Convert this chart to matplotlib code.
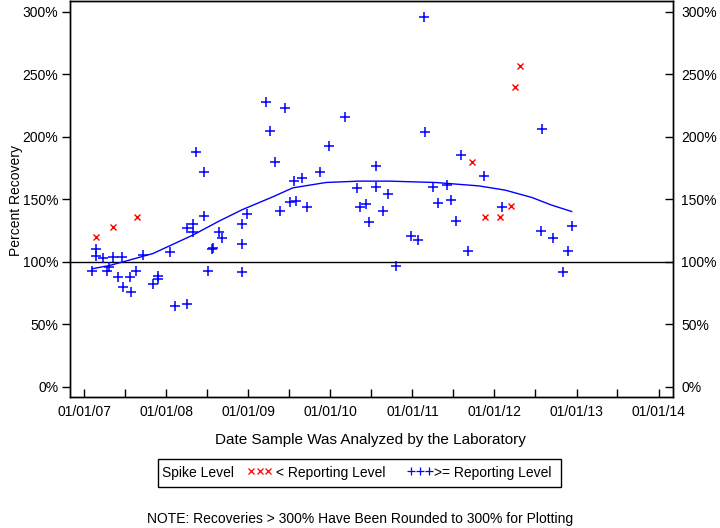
import matplotlib
matplotlib.use("Agg")
import matplotlib.pyplot as plt
import matplotlib.dates as mdates
import numpy as np
import pandas as pd
from matplotlib.lines import Line2D
from matplotlib.patches import Rectangle

plt.rcParams['font.family'] = ['Liberation Sans', 'DejaVu Sans']

# --- data: >= reporting level (blue +) ---
ge_dates = ['2007-02-05', '2007-02-21', '2007-02-21', '2007-03-26', '2007-04-10', '2007-04-22',
            '2007-05-09', '2007-05-31', '2007-06-16', '2007-06-23', '2007-07-23', '2007-07-27',
            '2007-08-21', '2007-09-20', '2007-11-05', '2007-11-27', '2007-11-27', '2008-01-17',
            '2008-02-09', '2008-04-01', '2008-04-01', '2008-04-27', '2008-04-27', '2008-05-12',
            '2008-06-15', '2008-06-15', '2008-07-06', '2008-07-24', '2008-07-26', '2008-08-22',
            '2008-09-06', '2008-12-04', '2008-12-04', '2008-12-04', '2008-12-27', '2009-03-21',
            '2009-04-06', '2009-05-01', '2009-05-22', '2009-06-11', '2009-07-05', '2009-07-21',
            '2009-08-02', '2009-08-28', '2009-09-19', '2009-11-15', '2009-12-24', '2010-03-09',
            '2010-04-27', '2010-05-11', '2010-06-09', '2010-06-23', '2010-07-21', '2010-07-21',
            '2010-08-23', '2010-09-13', '2010-10-21', '2010-12-25', '2011-01-27', '2011-02-20',
            '2011-02-27', '2011-04-03', '2011-04-27', '2011-06-02', '2011-06-21', '2011-07-12',
            '2011-08-04', '2011-09-07', '2011-11-17', '2012-02-03', '2012-07-28', '2012-07-30',
            '2012-09-19', '2012-11-03', '2012-11-24', '2012-12-13']
ge_values = [93, 110, 105, 103, 93, 96,
             104, 87.5, 103.5, 79.5, 87.5, 76,
             93, 105.5, 82, 89, 86.5, 107.5,
             65, 66.5, 127, 130, 124, 187.5,
             171.5, 136.5, 93, 110, 111, 124,
             119, 130.5, 114.5, 91.5, 138.5, 228,
             204.5, 179.5, 141, 223, 148, 165,
             148.5, 167, 143.5, 171.5, 193, 216,
             159, 144, 146, 132, 177, 160,
             140.5, 154, 97, 121, 117.5, 296,
             204, 160, 147, 161.5, 149.5, 133,
             185.5, 109, 169, 144, 125, 206.5,
             119, 92, 109, 129]

# --- data: < reporting level (red x) ---
lt_dates = ['2007-02-21', '2007-05-09', '2007-08-24', '2011-09-25', '2011-11-19',
            '2012-01-25', '2012-03-17', '2012-04-01', '2012-04-23']
lt_values = [119.5, 128, 136, 180, 135.5, 136, 144.5, 240, 257]

# --- smoothed trend line ---
trend_dates = ['2007-02-05', '2007-04-23', '2007-07-08', '2007-11-03', '2008-04-28', '2008-08-25',
               '2008-12-06', '2009-04-19', '2009-07-17', '2009-12-12', '2010-05-09', '2010-09-19',
               '2011-04-14', '2011-10-23', '2012-02-18', '2012-06-16', '2012-09-12', '2012-12-10']
trend_values = [94.4, 97, 100.7, 106.6, 121.3, 132.7,
                141.8, 151.9, 159.1, 163.4, 164.5, 164.5,
                163.4, 160.7, 157.3, 151.4, 145.3, 140.2]

y_ticks = [0, 50, 100, 150, 200, 250, 300]
x_tick_years = [2007, 2008, 2009, 2010, 2011, 2012, 2013, 2014]
reference_level = 100

fig = plt.figure(figsize=(7.2, 5.28), dpi=100)
ax = fig.add_axes([69.5 / 720, 1 - 397 / 528, (672.7 - 69.5) / 720, 396.5 / 528])

ax.plot(pd.to_datetime(trend_dates), trend_values, color='#0000ff', lw=1.0, zorder=2)
ax.axhline(reference_level, color='black', lw=1.0, zorder=1)
ax.plot(pd.to_datetime(ge_dates), ge_values, linestyle='none', marker='+', ms=7,
        mew=1.1, color='#0000ff', zorder=3)
ax.plot(pd.to_datetime(lt_dates), lt_values, linestyle='none', marker='x', ms=5,
        mew=1.0, color='#ff0000', zorder=3)

ax.set_xlim(pd.Timestamp('2006-10-27'), pd.Timestamp('2014-03-05'))
ax.set_ylim(-8.2, 309)

major = [pd.Timestamp(f'{y}-01-01') for y in x_tick_years]
minor = [pd.Timestamp(f'{y}-07-01') for y in x_tick_years[:-1]]
ax.set_xticks(major)
ax.set_xticks(minor, minor=True)
ax.set_xticklabels([d.strftime('%m/%d/%y') for d in major], fontsize=10)
ax.tick_params(axis='x', which='both', direction='in', length=6, width=1.0, pad=6)

ax.set_yticks(y_ticks)
ax.set_yticklabels([f'{v}%' for v in y_ticks], fontsize=10)
ax.tick_params(axis='y', direction='out', length=6, width=1.0, pad=2)

ax2 = ax.twinx()
ax2.set_ylim(ax.get_ylim())
ax2.set_yticks(y_ticks)
ax2.set_yticklabels([f'{v}%' for v in y_ticks], fontsize=10)
ax2.tick_params(axis='y', direction='in', length=6, width=1.0, pad=6)

for a in (ax, ax2):
    for s in a.spines.values():
        s.set_linewidth(1.0)

fig.text(16 / 720, 1 - 200 / 528, 'Percent Recovery', rotation=90, fontsize=10,
         ha='center', va='center')
fig.text(370.5 / 720, 1 - 440 / 528, 'Date Sample Was Analyzed by the Laboratory',
         fontsize=11, ha='center', va='center')

# legend box
ov = fig.add_axes([0, 0, 1, 1], facecolor='none')
ov.set_xlim(0, 720)
ov.set_ylim(528, 0)
ov.axis('off')
ov.add_patch(Rectangle((158.3, 459.3), 561 - 158.3, 28, fill=False, lw=1.0, edgecolor='black'))
ov.text(162, 473.5, 'Spike Level', fontsize=10, ha='left', va='center')
ov.plot([251, 259.5, 268], [471] * 3, linestyle='none', marker='x', ms=4.5, mew=0.9,
        color='#ff0000')
ov.text(276, 473.5, '< Reporting Level', fontsize=10, ha='left', va='center')
ov.plot([411, 420, 429], [471] * 3, linestyle='none', marker='+', ms=6, mew=0.9,
        color='#0000ff')
ov.text(434, 473.5, '>= Reporting Level', fontsize=10, ha='left', va='center')

fig.text(360 / 720, 1 - 519 / 528,
         'NOTE: Recoveries > 300% Have Been Rounded to 300% for Plotting',
         fontsize=10, ha='center', va='center')

fig.savefig('out.png', dpi=100)
